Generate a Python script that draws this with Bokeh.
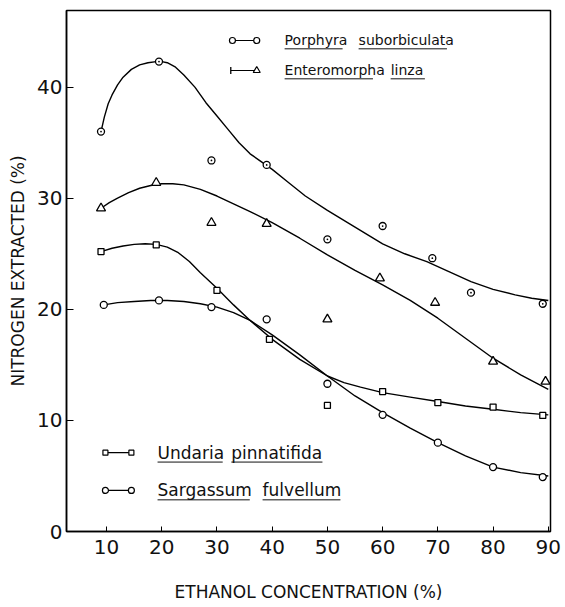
from bokeh.plotting import figure
from bokeh.models import Range1d, FixedTicker
from bokeh.embed import file_html
from bokeh.resources import INLINE
from bokeh.core.properties import value

FONT = "DejaVu Sans"

# ---- measured points (ethanol %, nitrogen extracted %) ----
porphyra_x = [9, 19.5, 29, 39, 50, 60, 69, 76, 89]
porphyra_y = [36.0, 42.3, 33.4, 33.0, 26.3, 27.5, 24.6, 21.5, 20.5]

entero_x = [9, 19, 29, 39, 50, 59.5, 69.5, 80, 89.5]
entero_y = [29.1, 31.4, 27.8, 27.7, 19.1, 22.8, 20.6, 15.3, 13.5]

undaria_x = [9, 19, 30, 39.5, 50, 60, 70, 80, 89]
undaria_y = [25.2, 25.8, 21.7, 17.3, 11.35, 12.6, 11.6, 11.2, 10.45]

sarg_x = [9.5, 19.5, 29, 39, 50, 60, 70, 80, 89]
sarg_y = [20.4, 20.8, 20.2, 19.1, 13.3, 10.5, 8.0, 5.8, 4.9]

# ---- hand-fitted smooth curves, read along their course ----
porphyra_fit_x = [9, 9.6, 10.3, 11, 12, 13, 14.5, 16, 17.5, 19, 20, 21, 22.5, 24, 26, 28, 30, 32, 34,
                  36, 38, 40, 43, 46, 50, 55, 60, 64, 68, 72, 76, 80, 84, 87, 90]
porphyra_fit_y = [36.0, 37.3, 38.5, 39.3, 40.2, 40.9, 41.6, 42.0, 42.2, 42.3, 42.3, 42.2, 41.8, 41.1, 40.0,
                  38.6, 37.4, 36.2, 35.0, 34.0, 33.3, 32.6, 31.4, 30.2, 28.9, 27.4, 25.9, 25.0, 24.3,
                  23.4, 22.5, 21.8, 21.3, 21.0, 20.8]

entero_fit_x = [9, 10.5, 12, 14, 16, 18, 20, 22, 24, 27, 30, 33, 36, 40, 45, 50, 55, 60, 65, 70,
                75, 80, 85, 90]
entero_fit_y = [29.1, 29.6, 30.0, 30.5, 30.9, 31.15, 31.3, 31.3, 31.2, 30.8, 30.2, 29.5, 28.8, 27.8,
                26.4, 24.9, 23.5, 22.2, 20.8, 19.2, 17.4, 15.6, 14.1, 12.8]

undaria_fit_x = [9, 11, 13, 15, 17, 19, 21, 23, 25, 27, 30, 33, 36, 40, 45, 50, 53, 56, 60, 65, 70,
                 75, 80, 85, 90]
undaria_fit_y = [25.2, 25.5, 25.7, 25.85, 25.9, 25.85, 25.6, 25.1, 24.3, 23.3, 21.9, 20.4, 19.0, 17.3,
                 15.5, 14.0, 13.4, 13.0, 12.5, 12.1, 11.7, 11.3, 11.0, 10.7, 10.5]

sarg_fit_x = [9.5, 12, 15, 18, 21, 24, 27, 30, 33, 36, 40, 45, 50, 55, 60, 65, 70, 75, 80, 85, 90]
sarg_fit_y = [20.4, 20.6, 20.7, 20.8, 20.8, 20.7, 20.5, 20.2, 19.7, 19.0, 17.7, 15.9, 14.0, 12.2,
              10.7, 9.3, 8.0, 6.8, 5.8, 5.3, 5.0]

x_ticks = [10, 20, 30, 40, 50, 60, 70, 80, 90]
y_ticks = [0, 10, 20, 30, 40]

p = figure(width=565, height=607, output_backend="svg", toolbar_location=None,
           x_range=Range1d(2.75, 90.4), y_range=Range1d(0, 46.9),
           min_border_left=66, min_border_right=15, min_border_top=10, min_border_bottom=76)
p.background_fill_color = "white"
p.border_fill_color = "white"
p.outline_line_color = "black"
p.outline_line_width = 1.5
p.grid.visible = False

for ax in (p.xaxis[0], p.yaxis[0]):
    ax.axis_line_width = 1.5
    ax.major_tick_out = 0
    ax.minor_tick_line_color = None
    ax.major_label_text_font = FONT
    ax.major_label_text_font_size = "20px"
    ax.major_label_text_color = "#111111"
    ax.axis_label_text_font = FONT
    ax.axis_label_text_font_style = "normal"
    ax.axis_label_text_font_size = "17px"
    ax.axis_label_text_color = "#111111"

p.xaxis.ticker = FixedTicker(ticks=x_ticks)
p.yaxis.ticker = FixedTicker(ticks=y_ticks)
p.xaxis.major_tick_in = 5
p.yaxis.major_tick_in = 7
p.xaxis.major_label_standoff = 8
p.yaxis.major_label_standoff = 4
p.xaxis.axis_label = "ETHANOL CONCENTRATION (%)"
p.yaxis.axis_label = "NITROGEN EXTRACTED (%)"
p.xaxis.axis_label_standoff = 25
p.yaxis.axis_label_standoff = 6

LW = 1.4
# curves
p.line(porphyra_fit_x, porphyra_fit_y, line_color="black", line_width=LW)
p.line(entero_fit_x, entero_fit_y, line_color="black", line_width=LW)
p.line(undaria_fit_x, undaria_fit_y, line_color="black", line_width=LW)
p.line(sarg_fit_x, sarg_fit_y, line_color="black", line_width=LW)

# measured points
p.scatter(porphyra_x, porphyra_y, marker="circle_dot", size=7, fill_color="white", line_color="black", line_width=1.3)
p.scatter(entero_x, entero_y, marker="triangle", size=9, fill_color="white", line_color="black", line_width=1.3)
p.scatter(undaria_x, undaria_y, marker="square", size=6, fill_color="white", line_color="black", line_width=1.3)
p.scatter(sarg_x, sarg_y, marker="circle", size=7, fill_color="white", line_color="black", line_width=1.3)

# ---- keys ----
# top key
p.line([32.8, 37.2], [44.2, 44.2], line_color="black", line_width=1.2)
p.scatter([32.8, 37.2], [44.2, 44.2], marker="circle", size=6, fill_color="white", line_color="black", line_width=1.2)
p.line([32.5, 37.2], [41.5, 41.5], line_color="black", line_width=1.2)
p.scatter([32.5], [41.5], marker="dash", angle=1.5708, size=7, line_color="black", line_width=1.3)
p.scatter([37.2], [41.5], marker="triangle", size=7, fill_color="white", line_color="black", line_width=1.2)

top_words = ["Porphyra", "suborbiculata", "Enteromorpha", "linza"]
top_wx = [42.25, 55.65, 42.25, 61.45]
top_wy = [44.2, 44.2, 41.5, 41.5]
top_wlen = [10.5, 16.0, 16.0, 6.2]
p.text(top_wx, top_wy, text=top_words, text_font=value(FONT), text_font_size="14px",
       text_baseline="middle", text_align="left", text_color="#111111")
p.segment(x0=top_wx, y0=[v - 0.75 for v in top_wy], x1=[a + b for a, b in zip(top_wx, top_wlen)],
          y1=[v - 0.75 for v in top_wy], line_color="#111111", line_width=1)

# bottom key
p.line([9.8, 14.5], [7.1, 7.1], line_color="black", line_width=1.2)
p.scatter([9.8, 14.5], [7.1, 7.1], marker="square", size=5, fill_color="white", line_color="black", line_width=1.2)
p.line([9.8, 14.5], [3.7, 3.7], line_color="black", line_width=1.2)
p.scatter([9.8, 14.5], [3.7, 3.7], marker="circle", size=6, fill_color="white", line_color="black", line_width=1.2)

bot_words = ["Undaria", "pinnatifida", "Sargassum", "fulvellum"]
bot_wx = [19.24, 32.6, 19.24, 38.26]
bot_wy = [7.1, 7.1, 3.7, 3.7]
bot_wlen = [11.8, 16.5, 16.7, 14.1]
p.text(bot_wx, bot_wy, text=bot_words, text_font=value(FONT), text_font_size="17px",
       text_baseline="middle", text_align="left", text_color="#111111")
p.segment(x0=bot_wx, y0=[v - 0.85 for v in bot_wy], x1=[a + b for a, b in zip(bot_wx, bot_wlen)],
          y1=[v - 0.85 for v in bot_wy], line_color="#111111", line_width=1)

open("out.html", "w").write(file_html(p, INLINE))
